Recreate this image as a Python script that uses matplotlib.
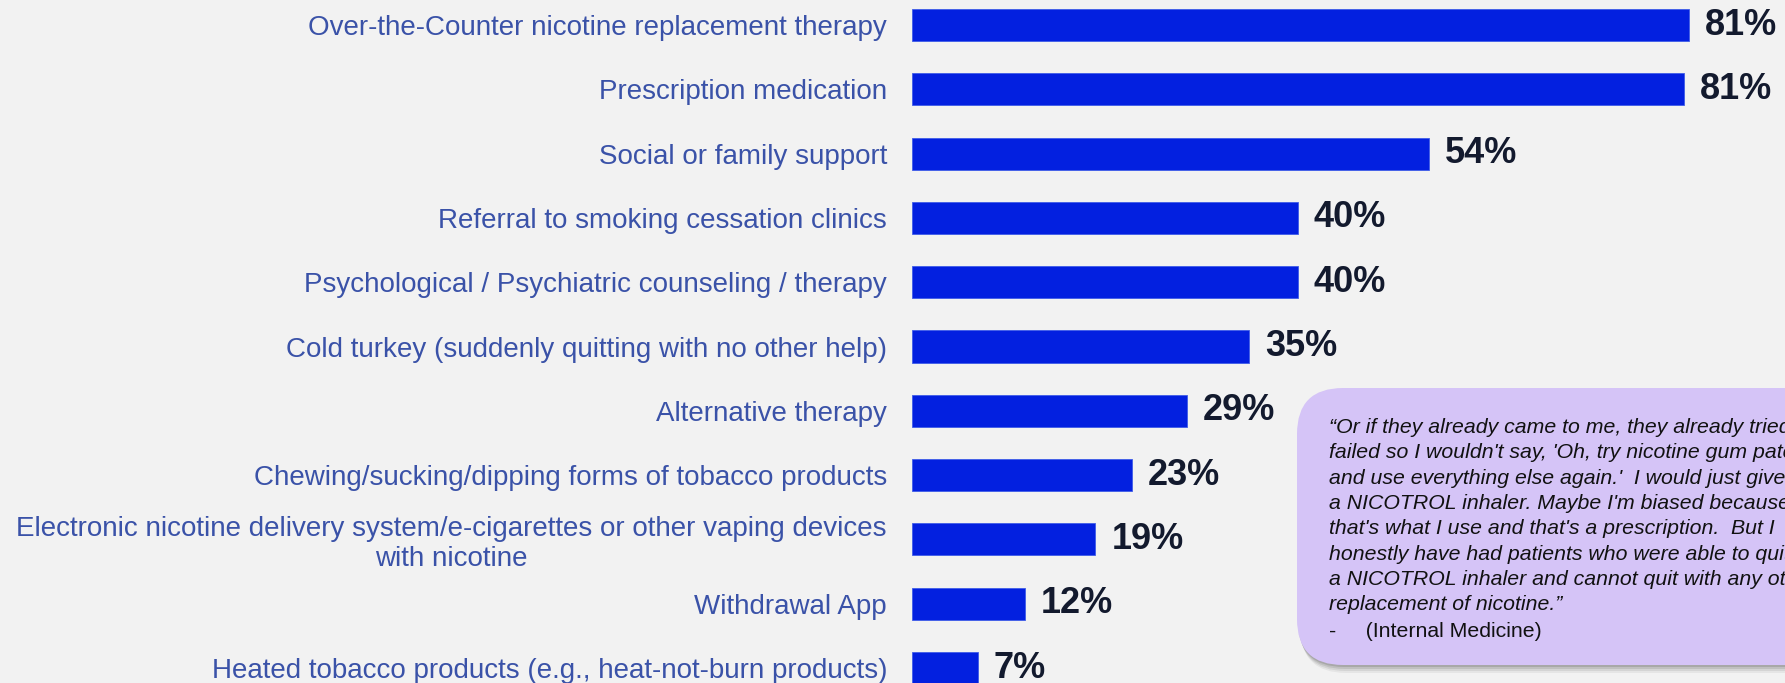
import matplotlib
matplotlib.use("Agg")
import matplotlib.pyplot as plt
from matplotlib.patches import FancyBboxPatch
from matplotlib.transforms import IdentityTransform

# data
categories = [
    "Over-the-Counter nicotine replacement therapy",
    "Prescription medication",
    "Social or family support",
    "Referral to smoking cessation clinics",
    "Psychological / Psychiatric counseling / therapy",
    "Cold turkey (suddenly quitting with no other help)",
    "Alternative therapy",
    "Chewing/sucking/dipping forms of tobacco products",
    "Electronic nicotine delivery system/e-cigarettes or other vaping devices\nwith nicotine",
    "Withdrawal App",
    "Heated tobacco products (e.g., heat-not-burn products)",
]
values = [81.4, 80.8, 54.1, 40.4, 40.4, 35.3, 28.8, 23.0, 19.2, 11.8, 6.9]
value_labels = ["81%", "81%", "54%", "40%", "40%", "35%", "29%", "23%", "19%", "12%", "7%"]

quote_lines = [
    "\u201cOr if they already came to me, they already tried everything and",
    "failed so I wouldn't say, 'Oh, try nicotine gum patches",
    "and use everything else again.'  I would just give them",
    "a NICOTROL inhaler. Maybe I'm biased because",
    "that's what I use and that's a prescription.  But I",
    "honestly have had patients who were able to quit with",
    "a NICOTROL inhaler and cannot quit with any other",
    "replacement of nicotine.\u201d",
]
quote_source = "-     (Internal Medicine)"

BG = "#F2F2F2"
BAR = "#0320E0"
LABEL = "#3A52A8"
VAL = "#131A2E"

W, H = 1785, 683
fig = plt.figure(figsize=(W / 100, H / 100), dpi=100, facecolor=BG)

# axes: bars start at x=912px, 9.55 px per percent point
ax = fig.add_axes([912 / W, 0, 1 - 912 / W, 1])
ax.set_facecolor(BG)
ypos = list(range(len(categories)))
ax.barh(ypos, values, height=0.5, color=BAR, edgecolor="#3F5CE8", linewidth=0.6)
ax.set_xlim(0, (W - 912) / 9.55)
ax.set_ylim(10.233, -0.389)

for y, v, lab in zip(ypos, values, value_labels):
    ax.annotate(lab, (v, y), xytext=(11.5, 0), textcoords="offset points",
                va="center", ha="left", fontsize=26, fontweight="bold",
                color=VAL, family="Liberation Sans")

ax.set_yticks(ypos)
ax.set_yticklabels(categories, fontsize=20, color=LABEL, family="Liberation Sans",
                   ha="right", multialignment="center")
ax.tick_params(axis="y", length=0, pad=18)
ax.tick_params(axis="x", bottom=False, labelbottom=False)
for s in ax.spines.values():
    s.set_visible(False)

# quote box (pixel coordinates)
tr = IdentityTransform()
x0, y0, bw, bh = 1297, 18, 600, 277
for k, a in enumerate([0.05, 0.07, 0.09, 0.12]):
    off = 8 - 2 * k
    sh = FancyBboxPatch((x0 + off * 0.4, y0 - off), bw, bh,
                        boxstyle="round,pad=0,rounding_size=46",
                        transform=tr, facecolor="#000000", alpha=a,
                        edgecolor="none", zorder=5)
    fig.patches.append(sh)
box = FancyBboxPatch((x0, y0), bw, bh, boxstyle="round,pad=0,rounding_size=46",
                     transform=tr, facecolor="#D5C4F7", edgecolor="none", zorder=6)
fig.patches.append(box)

base = 683 - 433
step = 25.3
for i, line in enumerate(quote_lines):
    fig.text(1329 / W, (base - i * step) / H, line, fontsize=15.3, style="italic",
             family="Liberation Sans", color="#111111", va="baseline", ha="left",
             zorder=7)
fig.text(1329 / W, (683 - 637) / H, quote_source, fontsize=15.3,
         family="Liberation Sans", color="#111111", va="baseline", ha="left", zorder=7)

fig.savefig("out.png", dpi=100, facecolor=BG)
